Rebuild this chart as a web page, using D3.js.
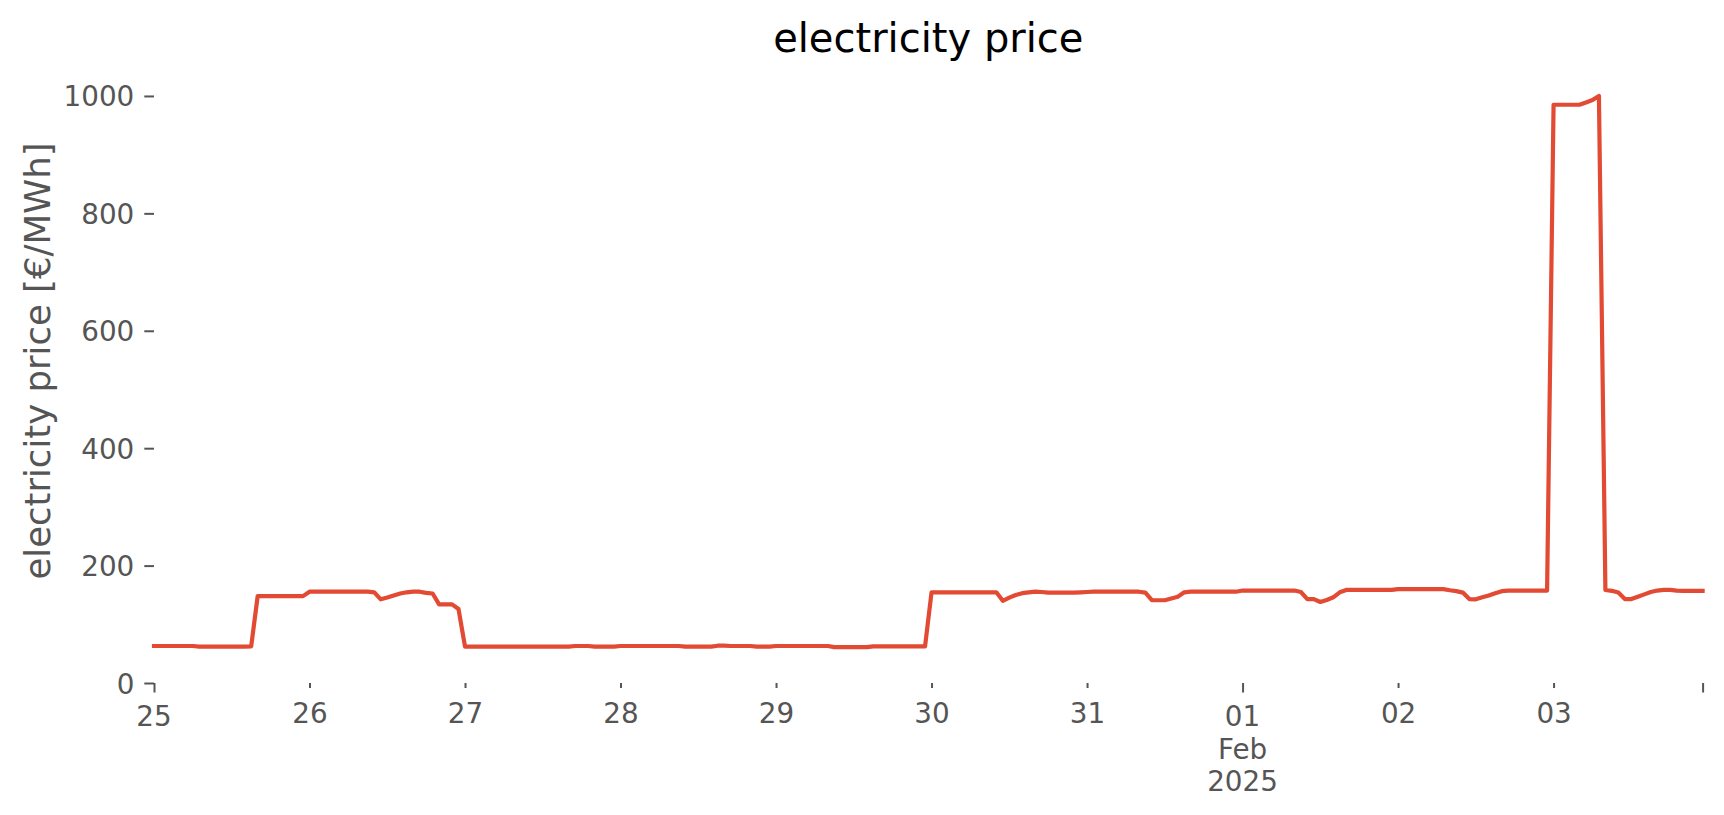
<!DOCTYPE html>
<html>
<head>
<meta charset="utf-8">
<script src="https://cdn.jsdelivr.net/npm/d3@7"></script>
<style>
  html, body { margin: 0; padding: 0; background: #ffffff; }
  svg { display: block; font-family: "DejaVu Sans", sans-serif; }
</style>
</head>
<body>
<svg id="chart" width="1724" height="815"></svg>
<script>
// ---- data ----
const startTime = "2025-01-25T00:00:00";   // first hourly sample
const endTime = "2025-02-03T23:00:00";     // last hourly sample
const prices = [
  63, 63, 63, 63, 63, 63, 63, 62, 62, 62, 62, 62, 62, 62, 62, 62.5,
  148, 148, 148, 148, 148, 148, 148, 148,
  155.5, 155.5, 155.5, 155.5, 155.5, 155.5, 155.5, 155.5, 155.5, 155.5,
  154.5, 142.5, 145.5, 149, 152.5, 154.5, 155.5, 155.5, 153.5, 152.5, 134, 134, 134, 126,
  62, 62, 62, 62, 62, 62, 62, 62, 62, 62, 62, 62,
  62, 62, 62, 62, 62, 63, 63, 63, 62, 62, 62, 62,
  63, 63, 63, 63, 63, 63, 63, 63, 63, 63, 62, 62, 62, 62, 62, 63.5, 63.5,
  63, 63, 63, 63, 62, 62, 62,
  63, 63, 63, 63, 63, 63, 63, 63, 63, 61, 61, 61, 61, 61, 61,
  62.5, 62.5, 62.5, 62.5, 62.5, 62.5, 62.5, 62.5, 62.5,
  154.5, 154.5, 154.5, 154.5, 154.5, 154.5, 154.5, 154.5, 154.5, 154.5, 154.5,
  140, 145.5, 150, 153, 154.5, 155.5, 155,
  154, 154, 154, 154, 154, 154.5, 155,
  155.5, 155.5, 155.5, 155.5, 155.5, 155.5, 155.5, 155.5,
  154, 141, 141, 141, 144, 147, 154.5,
  155.5, 155.5, 155.5, 155.5, 155.5, 155.5, 155.5, 155.5,
  157.5, 157.5, 157.5, 157.5, 157.5, 157.5, 157.5, 157.5, 157.5,
  155, 143, 143, 138, 141.5, 146, 154.5,
  158.5, 158.5, 158.5, 158.5, 158.5, 158.5, 158.5, 158.5,
  160, 160, 160, 160, 160, 160, 160, 160,
  158, 156.5, 154, 143, 142.5, 146, 149, 153, 156.5,
  157.5, 157.5, 157.5, 157.5, 157.5, 157.5, 157.5,
  985, 985, 985, 985, 985, 989, 993, 1000,
  158.5, 157, 154, 143, 143, 147, 151, 155, 157.5, 158.5, 158.5, 157.5,
  157, 157, 157, 157
];
const yTicks = [0, 200, 400, 600, 800, 1000];
const minorTickDates = ["2025-01-26", "2025-01-27", "2025-01-28", "2025-01-29", "2025-01-30",
                        "2025-01-31", "2025-02-02", "2025-02-03"];
const minorTickLabels = ["26", "27", "28", "29", "30", "31", "02", "03"];
const majorTickDates = ["2025-01-25", "2025-02-01"];
const majorTickLabels = [["25"], ["01", "Feb", "2025"]];
const titleText = "electricity price";
const yLabelText = "electricity price [€/MWh]";

// ---- layout ----
const svg = d3.select("#chart");
const parse = d3.isoParse;
const t0 = parse(startTime);
const times = prices.map((_, i) => d3.timeHour.offset(t0, i));
const series = prices.map((v, i) => ({ t: times[i], v: v }));

const mLeft = 154, mRight = 1702.6, mTop = 66.6, mBottom = 683;
const x = d3.scaleTime().domain([t0, parse(endTime)]).range([mLeft, mRight]);
const y = d3.scaleLinear().domain([0, 1050]).range([mBottom, mTop]);

const grey = "#555555";
const tickFont = "27.8px";

// y axis
const yAxis = d3.axisLeft(y).tickValues(yTicks).tickSize(9.7).tickPadding(10).tickFormat(d3.format("d"));
const gy = svg.append("g").attr("transform", `translate(${mLeft},0)`).call(yAxis);
gy.select(".domain").remove();
gy.selectAll(".tick line").attr("stroke", grey).attr("stroke-width", 2);
gy.selectAll(".tick text").attr("fill", grey).attr("font-size", tickFont)
  .attr("font-family", "DejaVu Sans").attr("dy", "0.36em");

// x axis: minor ticks (days)
const minorDates = minorTickDates.map(d => parse(d + "T00:00:00"));
const xMinor = d3.axisBottom(x).tickValues(minorDates).tickSize(5)
  .tickPadding(0).tickFormat((d, i) => minorTickLabels[i]);
const gxm = svg.append("g").attr("transform", `translate(0,${mBottom})`).call(xMinor);
gxm.select(".domain").remove();
gxm.selectAll(".tick line").attr("stroke", grey).attr("stroke-width", 2);
gxm.selectAll(".tick text").attr("fill", grey).attr("font-size", tickFont)
  .attr("font-family", "DejaVu Sans").attr("y", 39.5).attr("dy", null);

// x axis: major ticks (with multi-line labels), plus the end tick
const majorDates = majorTickDates.map(d => parse(d + "T00:00:00")).concat([parse(endTime)]);
const xMajor = d3.axisBottom(x).tickValues(majorDates).tickSize(9.5)
  .tickPadding(0).tickFormat(() => "");
const gxM = svg.append("g").attr("transform", `translate(0,${mBottom})`).call(xMajor);
gxM.select(".domain").remove();
gxM.selectAll(".tick line").attr("stroke", grey).attr("stroke-width", 2);
gxM.selectAll(".tick text").remove();
majorTickDates.forEach((d, i) => {
  const px = x(parse(d + "T00:00:00"));
  const txt = svg.append("text")
    .attr("x", px)
    .attr("text-anchor", "middle")
    .attr("fill", grey).attr("font-size", tickFont)
    .attr("font-family", "DejaVu Sans");
  majorTickLabels[i].forEach((lbl, j) => {
    txt.append("tspan").attr("x", px)
      .attr("y", mBottom + 43 + j * 32.5).text(lbl);
  });
});

// line
const line = d3.line().x(d => x(d.t)).y(d => y(d.v));
svg.append("path").datum(series)
  .attr("d", line)
  .attr("fill", "none")
  .attr("stroke", "#E24A33")
  .attr("stroke-width", 4.2)
  .attr("stroke-linejoin", "round")
  .attr("stroke-linecap", "square");

// title
svg.append("text").attr("x", (mLeft + mRight) / 2).attr("y", 52)
  .attr("text-anchor", "middle").attr("font-size", "40px").attr("fill", "#000000")
  .attr("font-family", "DejaVu Sans").text(titleText);

// y label
svg.append("text")
  .attr("transform", `translate(50,361) rotate(-90)`)
  .attr("text-anchor", "middle").attr("font-size", "35.5px").attr("fill", grey)
  .attr("font-family", "DejaVu Sans").text(yLabelText);
</script>
</body>
</html>
